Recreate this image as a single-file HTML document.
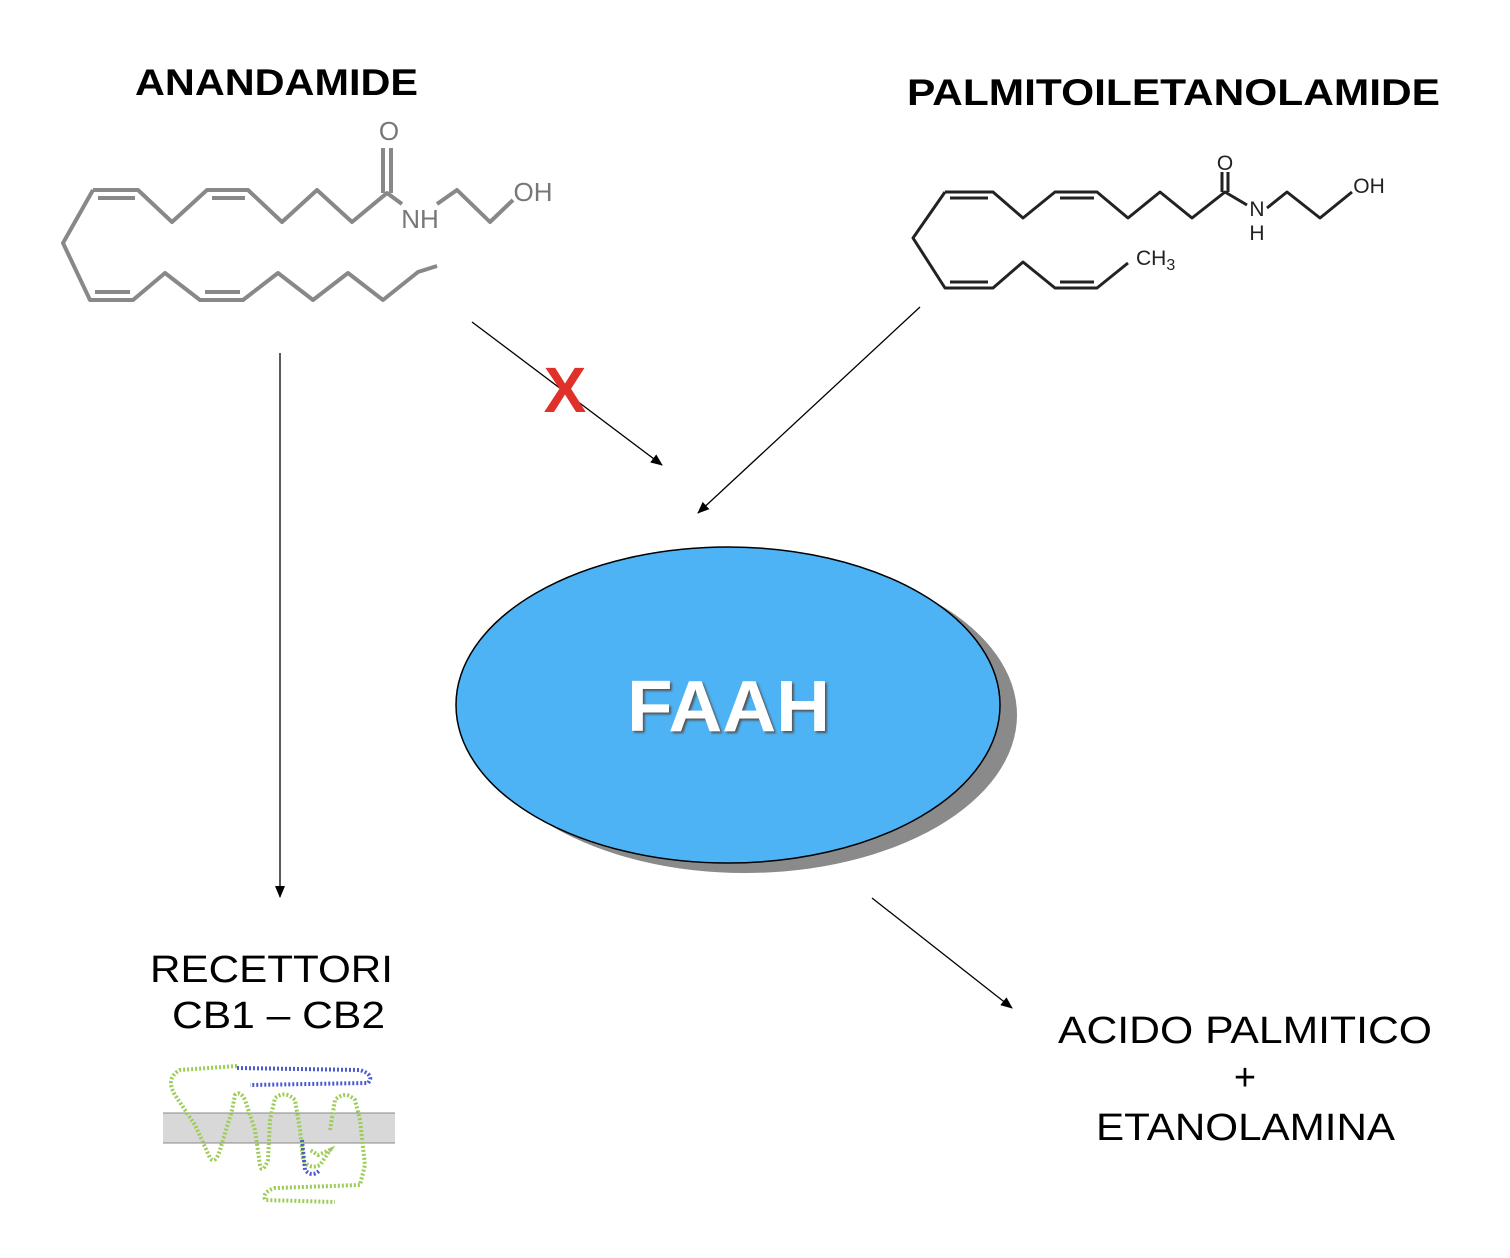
<!DOCTYPE html>
<html><head><meta charset="utf-8"><style>
body{margin:0;background:#fff}
svg{display:block}
text{font-family:"Liberation Sans",Arial,sans-serif}
</style></head><body>
<svg width="1510" height="1258" viewBox="0 0 1510 1258" xmlns="http://www.w3.org/2000/svg">
<defs>
<marker id="ah" markerWidth="12" markerHeight="10" refX="11" refY="5" orient="auto" markerUnits="userSpaceOnUse">
<path d="M0,0 L12,5 L0,10 z" fill="#000"/></marker>
<filter id="ts"><feDropShadow dx="2" dy="2" stdDeviation="1" flood-color="#555"/></filter>
</defs>
<text x="135" y="95" font-size="37" font-weight="bold" textLength="283" lengthAdjust="spacingAndGlyphs">ANANDAMIDE</text>
<text x="907" y="105" font-size="37" font-weight="bold" textLength="533" lengthAdjust="spacingAndGlyphs">PALMITOILETANOLAMIDE</text>

<g fill="none" stroke="#888" stroke-width="4" stroke-linejoin="round">
<polyline points="93,190 138,190 172,222 207,190 248,190 282,222 317,190 352,222 387,193 402,204"/>
<polyline points="437,204 457,190 490,222 513,200"/>
<polyline points="93,190 63,243 90,300 133,300 165,273 200,300 243,300 278,273 313,300 348,273 383,300 418,272 437,266"/>
<line x1="98" y1="198" x2="135" y2="198"/><line x1="212" y1="198" x2="245" y2="198"/>
<line x1="95" y1="292" x2="130" y2="292"/><line x1="205" y1="292" x2="240" y2="292"/>
<line x1="383" y1="193" x2="383" y2="148"/><line x1="391" y1="193" x2="391" y2="148"/>
</g>
<g fill="#777" font-size="26">
<text x="389" y="140" text-anchor="middle">O</text>
<text x="420" y="228" text-anchor="middle">NH</text>
<text x="533" y="201" text-anchor="middle">OH</text>
</g>

<g fill="none" stroke="#222" stroke-width="3" stroke-linejoin="round">
<polyline points="945,192 993,192 1023,218 1055,192 1097,192 1128,218 1160,192 1192,218 1225,192 1247,205"/>
<polyline points="1267,208 1287,192 1320,218 1352,192"/>
<polyline points="945,192 913,238 945,288 993,288 1023,262 1055,288 1097,288 1128,263"/>
<line x1="950" y1="198" x2="988" y2="198"/><line x1="1060" y1="198" x2="1094" y2="198"/>
<line x1="950" y1="282" x2="988" y2="282"/><line x1="1060" y1="282" x2="1094" y2="282"/>
<line x1="1222" y1="192" x2="1222" y2="172"/><line x1="1228" y1="192" x2="1228" y2="172"/>
</g>
<g fill="#222" font-size="21">
<text x="1225" y="170" text-anchor="middle">O</text>
<text x="1257" y="216" text-anchor="middle">N</text>
<text x="1257" y="240" text-anchor="middle">H</text>
<text x="1369" y="193" text-anchor="middle">OH</text>
<text x="1136" y="265">CH<tspan font-size="16" dy="5">3</tspan></text>
</g>

<g stroke="#000" stroke-width="1.3">
<line x1="280" y1="353" x2="280" y2="897" marker-end="url(#ah)"/>
<line x1="472" y1="322" x2="662" y2="465" marker-end="url(#ah)"/>
<line x1="920" y1="307" x2="698" y2="513" marker-end="url(#ah)"/>
<line x1="872" y1="898" x2="1012" y2="1008" marker-end="url(#ah)"/>
</g>
<text x="565" y="412" font-size="64" font-weight="bold" fill="#e0302a" text-anchor="middle">X</text>

<ellipse cx="745" cy="715" rx="272" ry="158" fill="#8a8a8a"/>
<ellipse cx="728" cy="705" rx="272" ry="158" fill="#4db3f5" stroke="#000" stroke-width="1.5"/>
<text x="627" y="731" font-size="72" font-weight="bold" fill="#fff" textLength="203" lengthAdjust="spacingAndGlyphs" filter="url(#ts)">FAAH</text>

<g font-size="38">
<text x="150" y="982" textLength="243" lengthAdjust="spacingAndGlyphs">RECETTORI</text>
<text x="172" y="1028" textLength="213" lengthAdjust="spacingAndGlyphs">CB1 – CB2</text>
<text x="1058" y="1043" textLength="374" lengthAdjust="spacingAndGlyphs">ACIDO PALMITICO</text>
<text x="1245" y="1090" text-anchor="middle">+</text>
<text x="1096" y="1140" textLength="299" lengthAdjust="spacingAndGlyphs">ETANOLAMINA</text>
</g>

<rect x="163" y="1113" width="232" height="30" fill="#d8d8d8"/>
<line x1="163" y1="1113" x2="395" y2="1113" stroke="#888"/>
<line x1="163" y1="1143" x2="395" y2="1143" stroke="#888"/>
<g fill="none" stroke-width="4" stroke-dasharray="2 2">
<path d="M237,1066 L180,1070 Q165,1078 175,1095 L195,1125 L210,1158 Q215,1165 220,1150 L232,1110 L235,1095 Q240,1090 245,1100 L255,1130 L260,1165 Q262,1175 268,1160 L270,1120 L275,1098 Q285,1090 295,1100 L300,1130 L303,1160 Q310,1170 320,1165 L330,1150 L318,1155 L310,1150" stroke="#9ccc55"/>
<path d="M237,1068 L360,1070 Q375,1075 368,1083 L250,1085" stroke="#4a5ad0"/>
<path d="M330,1130 L335,1100 Q345,1090 355,1100 L360,1120 L365,1165 L360,1185 L275,1188 Q262,1192 265,1200 L335,1202" stroke="#9ccc55"/>
<path d="M302,1140 L305,1170 Q312,1178 320,1170" stroke="#4a5ad0"/>
</g>
</svg>
</body></html>
